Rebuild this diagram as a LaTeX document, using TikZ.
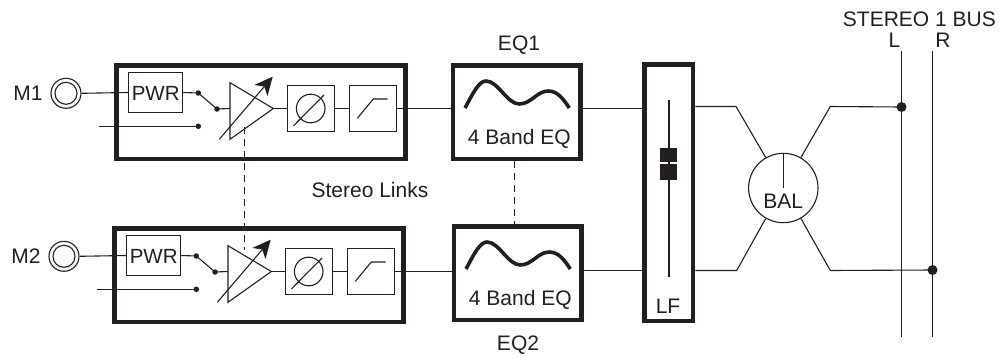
\documentclass[tikz,border=0pt]{standalone}
\usepackage{fontspec}
\setmainfont{Liberation Sans}
\usetikzlibrary{arrows.meta}
\definecolor{ink}{HTML}{231F20}
\tikzset{
  thinln/.style={line width=1.1pt,draw=ink},
  heavy/.style={draw=ink,line width=4.6pt,inner sep=0pt,fill=none},
  smallbox/.style={draw=ink,line width=1.1pt,inner sep=0pt,fill=none},
  lab/.style={inner sep=0pt,text=ink,text height=15pt,text depth=0pt,font=\fontsize{21}{21}\selectfont},
  labb/.style={lab,font=\fontsize{20.5}{20.5}\selectfont,text height=14.7pt},
  jdot/.style={circle,fill=ink,draw=none,inner sep=0pt,minimum size=#1},
  linkln/.style={line width=1.1pt,draw=ink,dash pattern=on 7pt off 5pt},
  curveln/.style={line width=3.6pt,draw=ink,line cap=butt},
}
\newcommand{\chanstrip}[4]{%
\begin{scope}[shift={(#2,#3)}]
  \node[heavy,minimum width=289pt,minimum height=93.5pt] (#1box) at (261,112.3) {};
  \node[smallbox,minimum width=54pt,minimum height=39.6pt] (#1pwr) at (155.7,92.5) {};
  \node[labb] (#1pwrt) at (155.7,92.7) {PWR};
  \node[circle,draw=ink,line width=1.1pt,minimum size=30pt,inner sep=0pt] (#1jo) at (66,93.3) {};
  \node[circle,draw=ink,line width=1.1pt,minimum size=22pt,inner sep=0pt] (#1ji) at (66,93.3) {};
  \node[lab] (#1name) at (28,92.7) {#4};
  \node[jdot=5.5pt] (#1a) at (198.3,93) {};
  \node[jdot=5.5pt] (#1b) at (198.3,126.3) {};
  \node[jdot=5.5pt] (#1c) at (217,109) {};
  \coordinate (#1free) at (99,126.3);
  \coordinate (#1t1) at (230,82.7);
  \coordinate (#1t2) at (230,139.3);
  \coordinate (#1t3) at (273.3,108.5);
  \coordinate (#1tin) at (230,108.5);
  \coordinate (#1g1) at (219.3,139.3);
  \coordinate (#1g2) at (272.7,76.7);
  \draw[thinln] (#1t1) -- (#1t3) -- (#1t2) -- cycle;
  \draw[thinln,-{Stealth[length=18pt,width=17pt,inset=5pt]}] (#1g1) -- (#1g2);
  \node[smallbox,minimum width=46.7pt,minimum height=46.6pt] (#1ph) at (310.7,108.5) {};
  \node[circle,draw=ink,line width=1.1pt,minimum size=28.6pt,inner sep=0pt] (#1phc) at (310.7,108.5) {};
  \coordinate (#1s1) at (293.3,126);
  \coordinate (#1s2) at (324,95);
  \draw[thinln] (#1s1) -- (#1s2);
  \node[smallbox,minimum width=47pt,minimum height=46.6pt] (#1hp) at (373.2,108.5) {};
  \coordinate (#1h1) at (357.3,118.3);
  \coordinate (#1h2) at (373.3,99);
  \coordinate (#1h3) at (387.7,99);
  \draw[thinln] (#1h1) -- (#1h2) -- (#1h3);
  \draw[thinln] (#1jo.east) -- (#1pwr.west);
  \draw[thinln] (#1pwr.east) -- (#1a.center) -- (#1c.center) -- (#1tin);
  \draw[thinln] (#1free) -- (#1b.center);
  \draw[thinln] (#1t3) -- (#1ph.west);
  \draw[thinln] (#1ph.east) -- (#1hp.west);
\end{scope}}
\newcommand{\eqblock}[3]{%
\begin{scope}[shift={(#2,#3)}]
  \node[heavy,minimum width=127.4pt,minimum height=93.5pt] (#1) at (516.7,112.3) {};
  \coordinate (#1c1) at (465,108);
  \coordinate (#1c2) at (486,81);
  \coordinate (#1c3) at (519.3,104);
  \coordinate (#1c4) at (548.3,91);
  \coordinate (#1c5) at (569.3,108);
  \draw[curveln] (#1c1) .. controls (473,93) and (479,81) .. (#1c2)
     .. controls (498,81) and (507,104) .. (#1c3)
     .. controls (531,104) and (537,91) .. (#1c4)
     .. controls (558,91) and (564,100) .. (#1c5);
  \node[lab] (#1t) at (519.3,136.7) {4 Band EQ};
\end{scope}}
\begin{document}
\begin{tikzpicture}[x=1pt,y=-1pt]
\useasboundingbox (0,0) rectangle (1000,356);
\chanstrip{u}{0}{0}{M1}
\chanstrip{d}{-2}{163}{M2}
\eqblock{eqa}{0}{0}
\eqblock{eqb}{1}{161}
\node[lab] (eqal) at (519,43.3) {EQ1};
\node[lab] (eqbl) at (518,342.7) {EQ2};
\node[lab] (links) at (370,190) {Stereo Links};
% fader
\node[heavy,minimum width=48.5pt,minimum height=256.5pt] (lf) at (668.8,192.7) {};
\coordinate (ft) at (668.7,100);
\coordinate (fb) at (668.7,276.7);
\draw[ink,line width=1.6pt] (ft) -- (fb);
\node[fill=ink,inner sep=0pt,minimum width=17pt,minimum height=13.7pt] (capa) at (668.8,155.2) {};
\node[fill=ink,inner sep=0pt,minimum width=17pt,minimum height=16pt] (capb) at (668.8,172) {};
\node[lab] (lft) at (668,305.7) {LF};
% bus
\coordinate (lt) at (901.5,50.7);
\coordinate (lb) at (901.5,336.7);
\coordinate (rt) at (932.5,50.7);
\coordinate (rb) at (932.5,336.7);
\draw[thinln] (lt) -- (lb);
\draw[thinln] (rt) -- (rb);
\node[jdot=10pt] (dl) at (901.5,107) {};
\node[jdot=10pt] (dr) at (932.5,270) {};
\node[lab,anchor=west] (bus) at (842.7,18.7) {STEREO 1 BUS};
\node[lab] (lbl) at (894.5,40.2) {L};
\node[lab] (rbl) at (943,40.2) {R};
% balance
\node[circle,draw=ink,line width=1.1pt,minimum size=69.4pt,inner sep=0pt] (bal) at (783.3,188) {};
\draw[thinln] (bal.north) -- (bal.center);
\node[lab] (balt) at (783.3,200.7) {BAL};
\coordinate (k1) at (736,106.5);
\coordinate (k2) at (830.3,106.5);
\coordinate (k3) at (736.7,270.5);
\coordinate (k4) at (830.3,270.5);
\draw[thinln] (lf.east |- k1) -- (k1) -- (bal.120);
\draw[thinln] (bal.60) -- (k2) -- (dl.center);
\draw[thinln] (lf.east |- k3) -- (k3) -- (bal.240);
\draw[thinln] (bal.300) -- (k4) -- (dr.center);
% signal
\draw[thinln] (uhp.east) -- (eqa.west |- uhp.east);
\draw[thinln] (dhp.east) -- (eqb.west |- dhp.east);
\coordinate (ea) at (600,108.5);
\coordinate (eb) at (600,270.5);
\draw[thinln] (eqa.east |- ea) -- (lf.west |- ea);
\draw[thinln] (eqb.east |- eb) -- (lf.west |- eb);
% links
\coordinate (lka) at (244.5,127);
\coordinate (lkb) at (244.5,250);
\draw[linkln] (lka) -- (lkb);
\coordinate (lkc) at (514.5,200);
\draw[linkln] (eqa.south -| lkc) -- (eqb.north -| lkc);
\end{tikzpicture}
\end{document}
